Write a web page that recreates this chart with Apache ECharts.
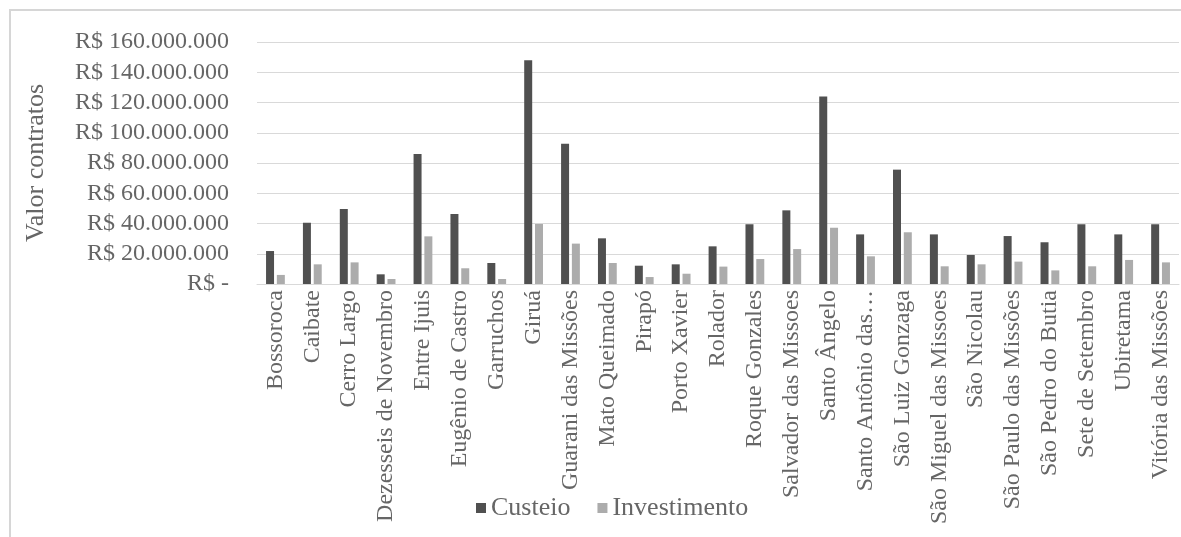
<!DOCTYPE html>
<html>
<head>
<meta charset="utf-8">
<script src="https://cdn.jsdelivr.net/npm/echarts@6/dist/echarts.min.js"></script>
<style>
  html, body { margin: 0; padding: 0; background: #ffffff; }
  #chart { width: 1181px; height: 537px; }
</style>
</head>
<body>
<div id="chart"></div>
<script>
// Municípios
const municipios = [
  "Bossoroca", "Caibate", "Cerro Largo", "Dezesseis de Novembro", "Entre Ijuis",
  "Eugênio de Castro", "Garruchos", "Giruá", "Guarani das Missões", "Mato Queimado",
  "Pirapó", "Porto Xavier", "Rolador", "Roque Gonzales", "Salvador das Missoes",
  "Santo Ângelo", "Santo Antônio das Missões", "São Luiz Gonzaga", "São Miguel das Missoes",
  "São Nicolau", "São Paulo das Missões", "São Pedro do Butia", "Sete de Setembro",
  "Ubiretama", "Vitória das Missões"
];

// Valor dos contratos (R$)
const custeio = [
  21800000, 40500000, 49600000, 6400000, 86000000,
  46300000, 13900000, 148000000, 92800000, 30200000,
  12100000, 13000000, 24900000, 39500000, 48700000,
  124000000, 32800000, 75600000, 32800000,
  19200000, 31700000, 27600000, 39500000,
  32800000, 39500000
];
const investimento = [
  6000000, 13000000, 14300000, 3300000, 31500000,
  10400000, 3300000, 39700000, 26700000, 13900000,
  4600000, 6800000, 11500000, 16500000, 23100000,
  37200000, 18300000, 34200000, 11700000,
  13000000, 14800000, 9000000, 11700000,
  15900000, 14300000
];

// Eixo de valores
const eixoMin = 0;
const eixoMax = 160000000;
const eixoPasso = 20000000;

// Rótulos abreviados no eixo de categorias
const rotulosCurtos = { "Santo Antônio das Missões": "Santo Antônio das…" };

const fonte = "'Liberation Serif', 'Times New Roman', serif";
const corTexto = "#666666";

function formatoReal(v) {
  if (v === 0) return "R$ -";
  return "R$ " + v.toString().replace(/\B(?=(\d{3})+(?!\d))/g, ".");
}

const chart = echarts.init(document.getElementById("chart"), null, { renderer: "canvas" });

chart.setOption({
  animation: false,
  backgroundColor: "#ffffff",
  graphic: [
    {
      type: "polyline",
      shape: { points: [[10, 600], [10, 10], [1200, 10]] },
      style: { stroke: "#d6d6d6", lineWidth: 2, fill: null },
      silent: true
    }
  ],
  grid: { left: 257, right: 2, top: 42, bottom: 253, containLabel: false },
  legend: {
    left: 471,
    top: 490,
    icon: "rect",
    itemWidth: 10,
    itemHeight: 10,
    itemGap: 27,
    textStyle: { fontFamily: fonte, fontSize: 26, color: corTexto },
    data: ["Custeio", "Investimento"]
  },
  xAxis: {
    type: "category",
    data: municipios,
    axisLine: { show: true, lineStyle: { color: "#d9d9d9", width: 1 } },
    axisTick: { show: false },
    axisLabel: {
      rotate: 90,
      interval: 0,
      margin: 6,
      fontFamily: fonte,
      fontSize: 24,
      color: corTexto,
      formatter: function (v) { return rotulosCurtos[v] || v; }
    }
  },
  yAxis: {
    type: "value",
    min: eixoMin,
    max: eixoMax,
    interval: eixoPasso,
    name: "Valor contratos",
    nameLocation: "middle",
    nameGap: 208,
    nameRotate: 90,
    nameTextStyle: { fontFamily: fonte, fontSize: 26, color: corTexto },
    axisLine: { show: false },
    axisTick: { show: false },
    splitLine: { lineStyle: { color: "#d9d9d9", width: 1 } },
    axisLabel: {
      margin: 28,
      fontFamily: fonte,
      fontSize: 24,
      color: corTexto,
      formatter: formatoReal
    }
  },
  series: [
    {
      name: "Custeio",
      type: "bar",
      data: custeio,
      barWidth: 8,
      barGap: "35%",
      itemStyle: { color: "#505050" }
    },
    {
      name: "Investimento",
      type: "bar",
      data: investimento,
      barWidth: 8,
      itemStyle: { color: "#acacac" }
    }
  ]
});
</script>
</body>
</html>
